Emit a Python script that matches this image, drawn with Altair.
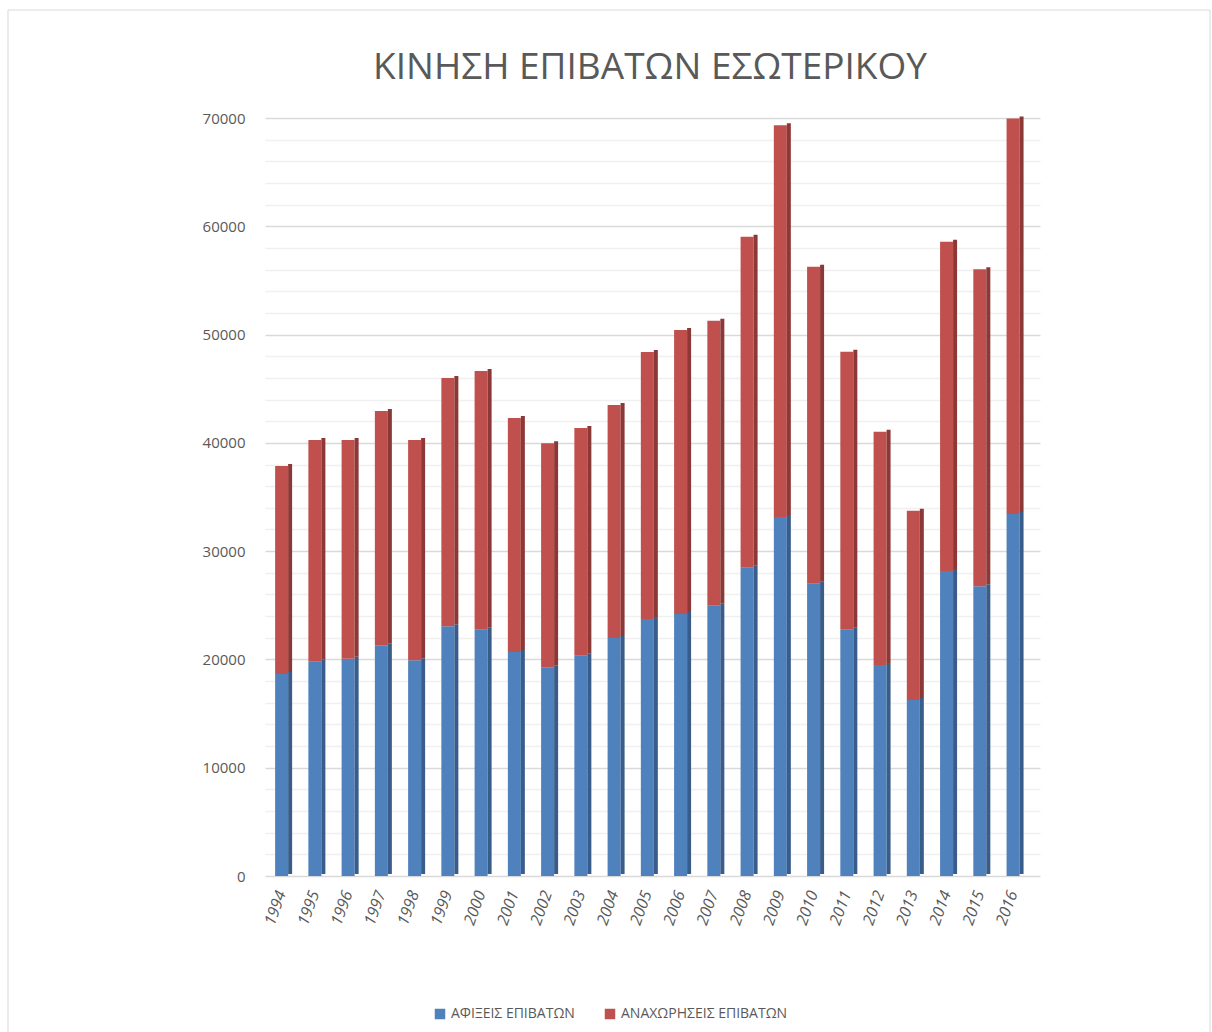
import altair as alt
import pandas as pd

years = ["1994", "1995", "1996", "1997", "1998", "1999", "2000", "2001", "2002", "2003", "2004", "2005",
         "2006", "2007", "2008", "2009", "2010", "2011", "2012", "2013", "2014", "2015", "2016"]
arrivals = [18650, 19790, 20070, 21300, 19920, 23060, 22750, 20690, 19270, 20350, 21980, 23730,
            24200, 24960, 28470, 33150, 26990, 22750, 19490, 16250, 28170, 26750, 33430]
departures = [19210, 20480, 20200, 21640, 20350, 22930, 23890, 21610, 20690, 21020, 21520, 24660,
              26220, 26320, 30570, 36180, 29280, 25670, 21540, 17490, 30410, 29280, 36520]
series_names = ["ΑΦΙΞΕΙΣ ΕΠΙΒΑΤΩΝ", "ΑΝΑΧΩΡΗΣΕΙΣ ΕΠΙΒΑΤΩΝ"]
front_colors = ["#4F81BD", "#C0504D"]
side_colors = ["#385D8A", "#8C3836"]
title_text = "ΚΙΝΗΣΗ ΕΠΙΒΑΤΩΝ ΕΣΩΤΕΡΙΚΟΥ"
grid_values = [v * 2000 for v in range(36)]

rows = []
for i, y in enumerate(years):
    rows.append({"year": y, "series": series_names[0], "value": arrivals[i], "ord": 0})
    rows.append({"year": y, "series": series_names[1], "value": departures[i], "ord": 1})
df = pd.DataFrame(rows)

grey = "#595959"

x_enc = alt.X("year:N", sort=years, title=None,
              scale=alt.Scale(paddingInner=0, paddingOuter=0.155, align=0),
              axis=alt.Axis(labelAngle=-70, labelFontSize=16, labelColor=grey, labelPadding=15,
                            labelFontStyle="italic",
                            domain=False, ticks=False, labelFont="Open Sans", labelOverlap=False))
y_enc = alt.Y("value:Q", stack="zero", title=None,
              scale=alt.Scale(domain=[0, 70000], nice=False),
              axis=alt.Axis(values=grid_values, tickCount=100, format="d",
                            labelExpr="datum.value % 10000 === 0 ? datum.label : ''",
                            labelOverlap=False, labelBound=False,
                            labelFontSize=15, labelColor=grey, labelPadding=20, labelFont="Open Sans",
                            domain=False, ticks=False,
                            gridColor={"condition": {"test": "datum.value % 10000 === 0", "value": "#d9d9d9"},
                                       "value": "#f0f0f0"},
                            gridWidth=1.3))

front = alt.Chart(df).mark_bar(size=13).encode(
    x=x_enc,
    y=y_enc,
    order=alt.Order("ord:Q"),
    color=alt.Color("series:N", sort=series_names,
                    scale=alt.Scale(domain=series_names, range=front_colors),
                    legend=alt.Legend(title=None, orient="none", direction="horizontal",
                                      legendX=168, legendY=889, symbolType="square", symbolSize=110,
                                      labelFontSize=14, labelColor=grey, labelFont="Open Sans",
                                      labelLimit=0, columnPadding=28, symbolStrokeWidth=0)),
)

side = alt.Chart(df).mark_bar(size=4, xOffset=8.5, yOffset=-2).encode(
    x=alt.X("year:N", sort=years),
    y=alt.Y("value:Q", stack="zero"),
    order=alt.Order("ord:Q"),
    color=alt.Color("series:N", sort=series_names,
                    scale=alt.Scale(domain=series_names, range=side_colors), legend=None),
)

border = alt.Chart(pd.DataFrame({"k": [0]})).mark_rect(fill=None, stroke="#d9d9d9", strokeWidth=1).encode(
    x=alt.value(-257), x2=alt.value(945), y=alt.value(-108), y2=alt.value(930)
)

title = alt.Chart(pd.DataFrame({"t": [title_text]})).mark_text(
    fontSize=37, font="Open Sans", color=grey, align="center", baseline="middle"
).encode(text="t:N", x=alt.value(385), y=alt.value(-50))

chart = alt.layer(border, front, side, title).resolve_scale(color="independent").properties(
    width=775, height=758,
    autosize=alt.AutoSizeParams(type="none"),
    padding={"left": 265, "top": 118, "right": 172, "bottom": 156},
).configure_view(stroke=None)

chart.save("out.html", embed_options={"renderer": "svg", "actions": False})
